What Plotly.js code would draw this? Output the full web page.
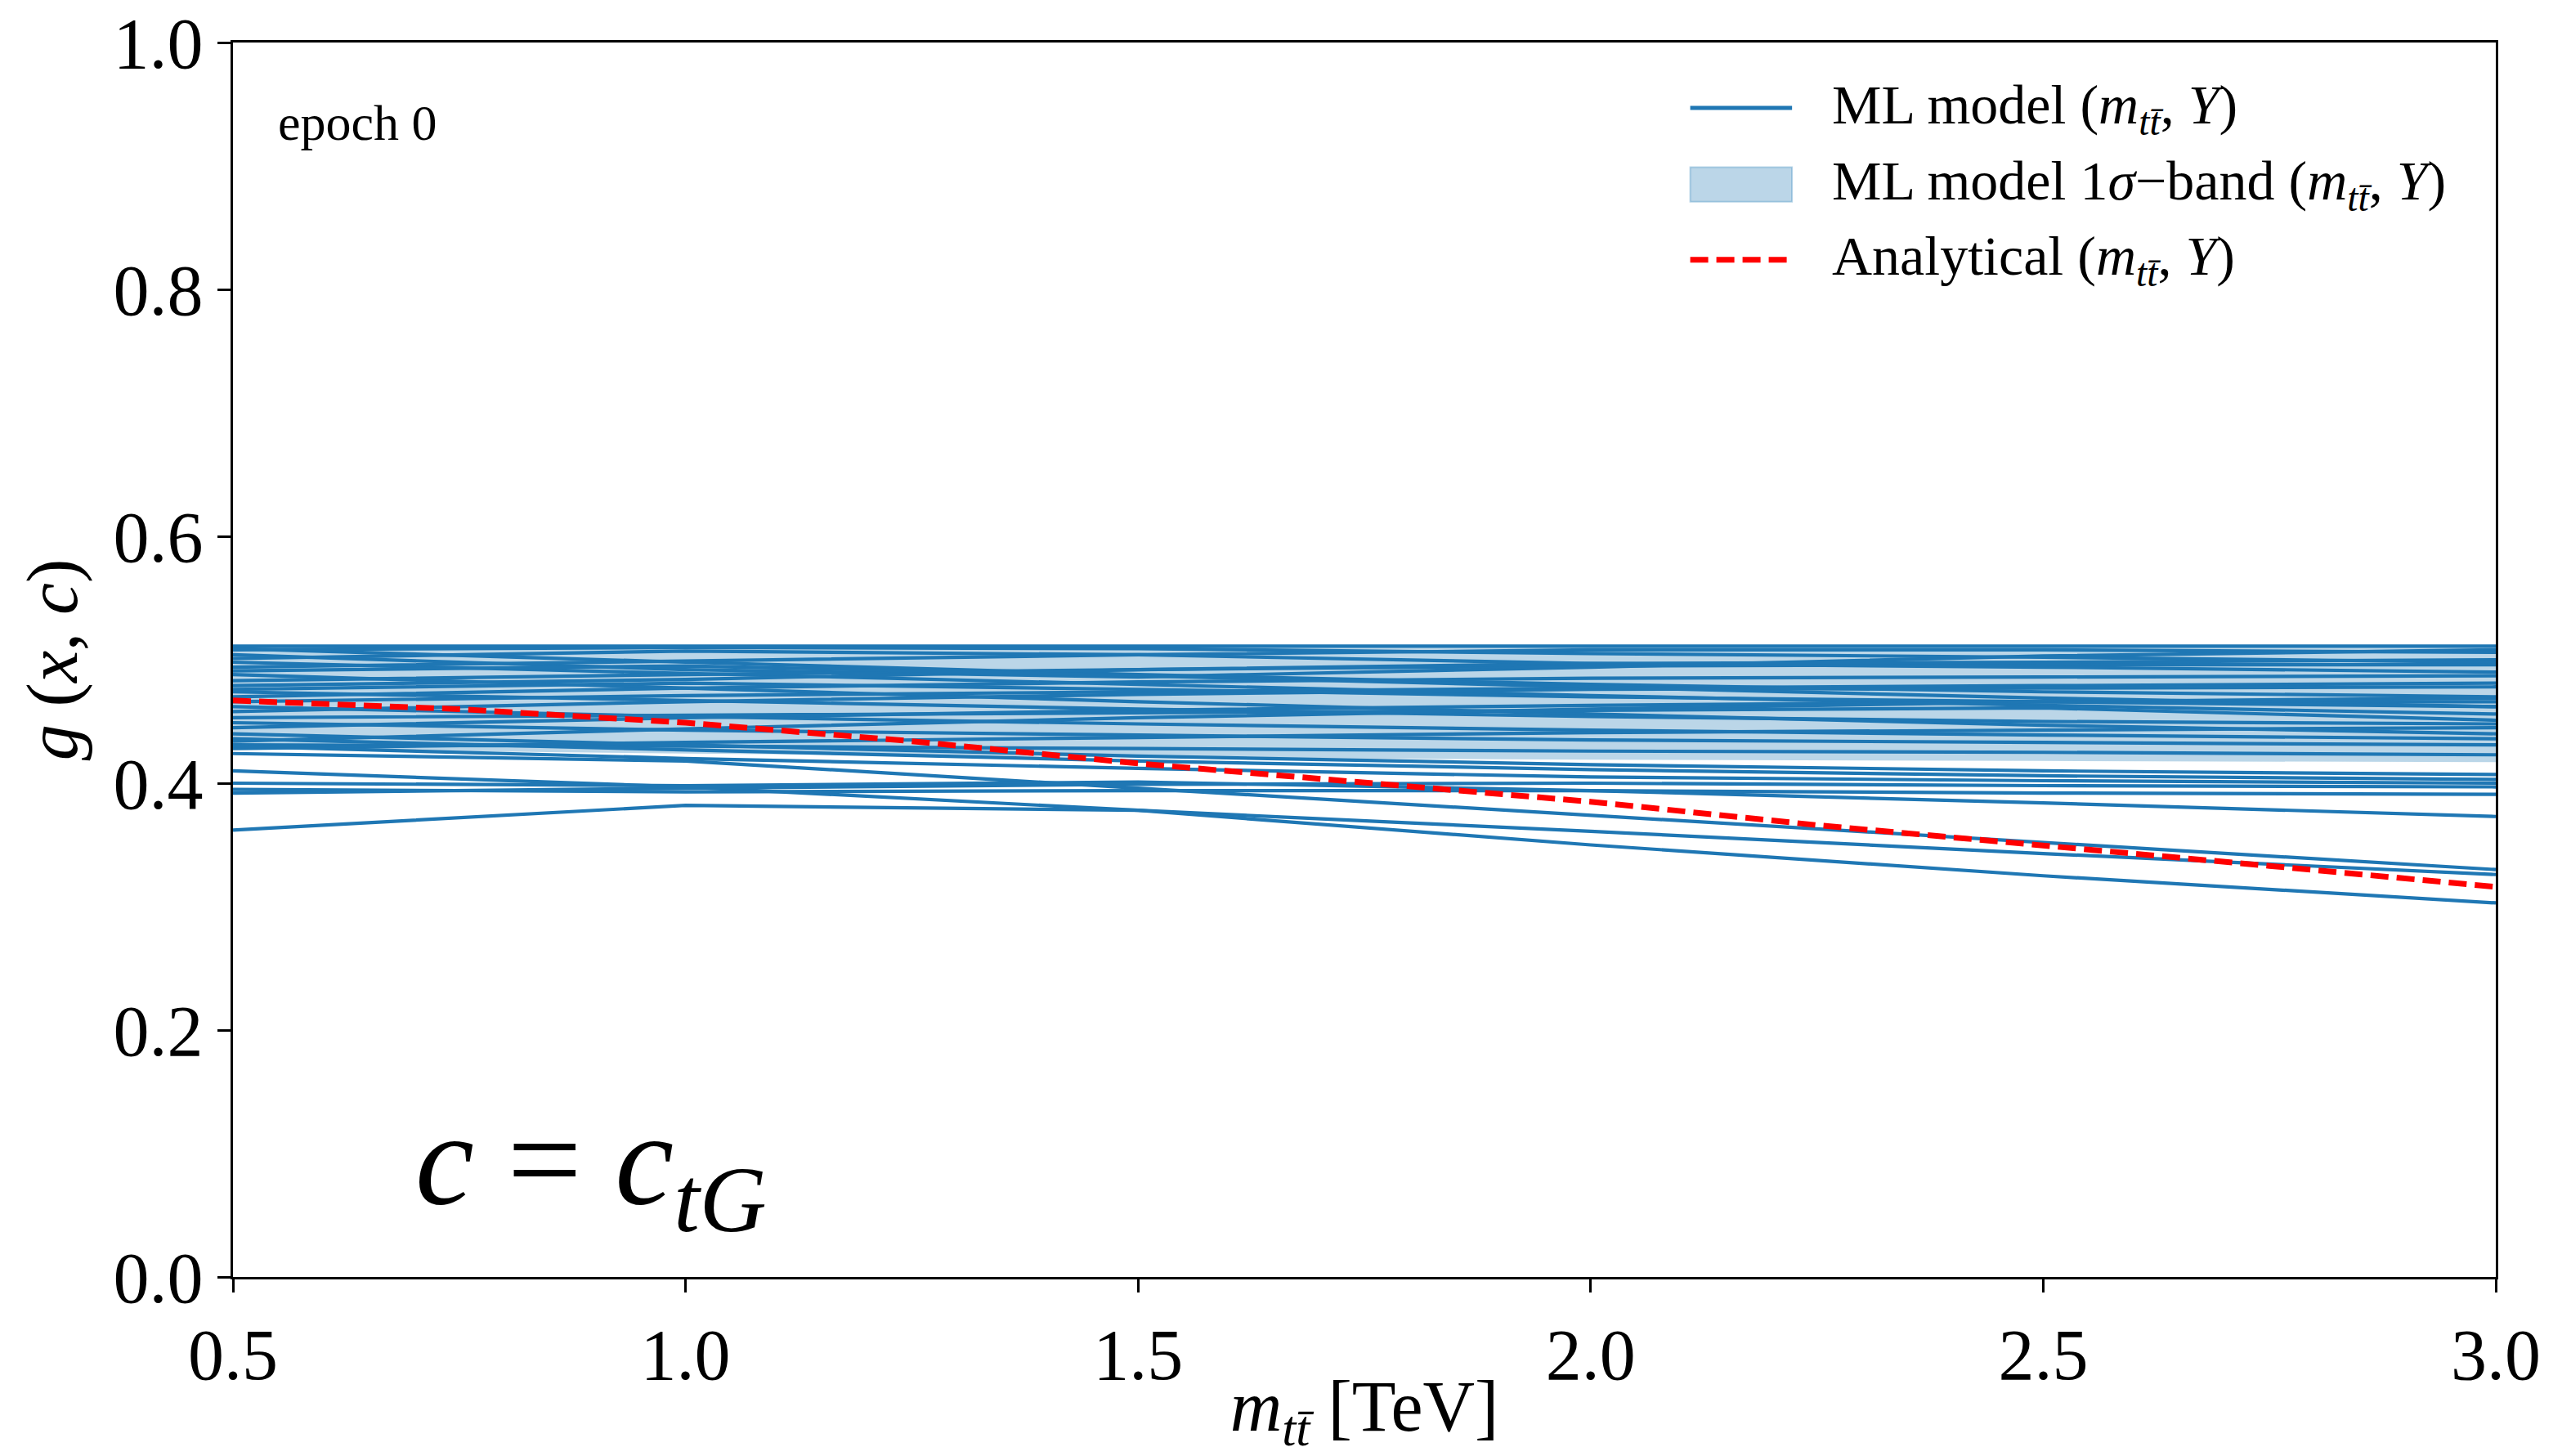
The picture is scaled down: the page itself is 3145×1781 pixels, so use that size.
<!DOCTYPE html>
<html>
<head>
<meta charset="utf-8">
<script src="https://cdn.plot.ly/plotly-3.0.1.min.js"></script>
<style>html,body{margin:0;padding:0;background:#fff;}#chart{width:3145px;height:1781px;}</style>
</head>
<body>
<div id="chart"></div>
<script>
// x grid (TeV) for the ML replicas
const xModel = [0.5, 1.0, 1.5, 2.0, 2.5, 3.0];

// ML model replicas, g(x,c) read at xModel
const rep01 = [0.511, 0.511, 0.511, 0.511, 0.511, 0.511];
const rep02 = [0.509, 0.498, 0.488, 0.480, 0.474, 0.470];
const rep03 = [0.504, 0.492, 0.486, 0.494, 0.503, 0.508];
const rep04 = [0.498, 0.489, 0.480, 0.471, 0.463, 0.456];
const rep05 = [0.494, 0.499, 0.504, 0.508, 0.508, 0.506];
const rep06 = [0.488, 0.477, 0.466, 0.456, 0.447, 0.440];
const rep07 = [0.483, 0.488, 0.492, 0.495, 0.496, 0.496];
const rep08 = [0.479, 0.484, 0.492, 0.497, 0.494, 0.490];
const rep09 = [0.474, 0.467, 0.460, 0.454, 0.450, 0.448];
const rep10 = [0.470, 0.477, 0.482, 0.485, 0.486, 0.487];
const rep11 = [0.466, 0.471, 0.474, 0.477, 0.479, 0.481];
const rep12 = [0.462, 0.454, 0.448, 0.443, 0.439, 0.436];
const rep13 = [0.458, 0.466, 0.472, 0.476, 0.477, 0.478];
const rep14 = [0.449, 0.443, 0.439, 0.435, 0.433, 0.431];
const rep15 = [0.445, 0.453, 0.459, 0.463, 0.466, 0.466];
const rep16 = [0.434, 0.444, 0.453, 0.460, 0.466, 0.469];
const rep17 = [0.431, 0.430, 0.428, 0.426, 0.425, 0.423];
const rep18 = [0.428, 0.433, 0.437, 0.441, 0.443, 0.445];
const rep19 = [0.501, 0.507, 0.504, 0.497, 0.498, 0.500];
const rep20 = [0.491, 0.495, 0.487, 0.478, 0.469, 0.462];
const rep21 = [0.476, 0.481, 0.476, 0.470, 0.466, 0.462];
const rep22 = [0.508, 0.510, 0.509, 0.505, 0.502, 0.498];
const rep23 = [0.453, 0.455, 0.457, 0.459, 0.461, 0.451];
const rep24 = [0.424, 0.418, 0.396, 0.374, 0.352, 0.330];
const rep25 = [0.410, 0.397, 0.378, 0.361, 0.343, 0.326];
const rep26 = [0.362, 0.382, 0.378, 0.350, 0.325, 0.303];
const rep27 = [0.400, 0.398, 0.401, 0.394, 0.384, 0.373];
const rep28 = [0.395, 0.393, 0.394, 0.394, 0.392, 0.391];
const rep29 = [0.392, 0.396, 0.399, 0.400, 0.398, 0.397];
const rep30 = [0.430, 0.420, 0.412, 0.405, 0.402, 0.400];
const rep31 = [0.436, 0.427, 0.418, 0.411, 0.406, 0.403];
const rep32 = [0.440, 0.431, 0.422, 0.415, 0.410, 0.407];

const replicas = [rep01, rep02, rep03, rep04, rep05, rep06, rep07, rep08, rep09, rep10,
                  rep11, rep12, rep13, rep14, rep15, rep16, rep17, rep18, rep19, rep20,
                  rep21, rep22, rep23, rep24, rep25, rep26, rep27, rep28, rep29, rep30,
                  rep31, rep32];

// 1-sigma band edges at xModel
const bandLower = [0.428, 0.424, 0.421, 0.419, 0.418, 0.417];
const bandUpper = [0.510, 0.510, 0.510, 0.510, 0.510, 0.510];

// Analytical curve
const xAnalytic = [0.5, 0.75, 1.0, 1.25, 1.5, 1.75, 2.0, 2.25, 2.5, 2.75, 3.0];
const yAnalytic = [0.467, 0.460, 0.449, 0.434, 0.416, 0.400, 0.385, 0.366, 0.350, 0.333, 0.316];

const xTicks = [0.5, 1.0, 1.5, 2.0, 2.5, 3.0];
const yTicks = [0.0, 0.2, 0.4, 0.6, 0.8, 1.0];

const legendLabels = ['ML model', 'ML model 1<i>σ</i>\u2212band', 'Analytical'];

const BLUE = '#1f77b4';
const BANDFILL = 'rgba(31,119,180,0.3)';
const RED = '#ff0000';
const FONT = 'Liberation Serif, Times New Roman, serif';
const MTT = '<i>m</i><sub><i>tt\u0304</i></sub>';
const SUFFIX = ' (' + MTT + ', <i>Y</i>)';

const traces = [];
traces.push({x: xModel, y: bandLower, mode: 'lines', line: {width: 0, color: 'rgba(0,0,0,0)'},
             showlegend: false, hoverinfo: 'skip'});
traces.push({x: xModel, y: bandUpper, mode: 'lines', fill: 'tonexty',
             fillcolor: BANDFILL, line: {width: 0, color: BANDFILL},
             name: legendLabels[1] + SUFFIX, showlegend: false});
replicas.forEach((r) => {
  traces.push({x: xModel, y: r, mode: 'lines', line: {color: BLUE, width: 4.2},
               name: legendLabels[0] + SUFFIX, showlegend: false});
});
traces.push({x: xAnalytic, y: yAnalytic, mode: 'lines', line: {color: RED, width: 7, dash: '22px,10px'},
             name: legendLabels[2] + SUFFIX, showlegend: false});

// hand-drawn legend (paper coordinates)
const legX0 = 0.644, legX1 = 0.689, legTextX = 0.706;
const legRows = [0.947, 0.885, 0.824];
const shapes = [
  {type: 'line', xref: 'paper', yref: 'paper', x0: legX0, x1: legX1, y0: legRows[0], y1: legRows[0],
   line: {color: BLUE, width: 5}},
  {type: 'rect', xref: 'paper', yref: 'paper', x0: legX0, x1: legX1, y0: legRows[1] - 0.014, y1: legRows[1] + 0.014,
   fillcolor: BANDFILL, line: {color: BANDFILL, width: 2}},
  {type: 'line', xref: 'paper', yref: 'paper', x0: legX0, x1: legX1, y0: legRows[2], y1: legRows[2],
   line: {color: RED, width: 7, dash: '22px,10px'}}
];
const annotations = legendLabels.map((t, i) => ({
  text: t + SUFFIX, xref: 'paper', yref: 'paper', x: legTextX, y: legRows[i],
  xanchor: 'left', yanchor: 'middle', showarrow: false, font: {size: 68, family: FONT}
}));
annotations.push({text: 'epoch 0', xref: 'paper', yref: 'paper', x: 0.019, y: 0.935, xanchor: 'left', yanchor: 'middle',
  showarrow: false, font: {size: 62, family: FONT}});
annotations.push({text: '<i>c</i> = <i>c</i><sub><i>tG</i></sub>', xref: 'paper', yref: 'paper', x: 0.08, y: 0.088,
  xanchor: 'left', yanchor: 'middle', showarrow: false, font: {size: 162, family: FONT}});

const layout = {
  width: 3145, height: 1781,
  paper_bgcolor: '#fff', plot_bgcolor: '#fff',
  margin: {l: 285, r: 92, t: 52, b: 219},
  font: {family: FONT, color: '#000', size: 88},
  showlegend: false,
  xaxis: {range: [0.5, 3.0], tickvals: xTicks, ticktext: xTicks.map(v => v.toFixed(1)),
          showgrid: false, zeroline: false, showline: true, linecolor: '#000', linewidth: 3,
          mirror: true, ticks: 'outside', ticklen: 16, tickwidth: 3, tickcolor: '#000',
          tickfont: {size: 88, family: FONT},
          title: {text: MTT + ' [TeV]', font: {size: 88, family: FONT}, standoff: 20}},
  yaxis: {range: [0, 1.0], tickvals: yTicks, ticktext: yTicks.map(v => v.toFixed(1)),
          showgrid: false, zeroline: false, showline: true, linecolor: '#000', linewidth: 3,
          mirror: true, ticks: 'outside', ticklen: 16, tickwidth: 3, tickcolor: '#000',
          tickfont: {size: 88, family: FONT},
          title: {text: '<i>g</i> (<i>x</i>, <i>c</i>)', font: {size: 88, family: FONT}, standoff: 15}},
  shapes: shapes,
  annotations: annotations
};

Plotly.newPlot('chart', traces, layout, {displayModeBar: false, staticPlot: true});
</script>
</body>
</html>
